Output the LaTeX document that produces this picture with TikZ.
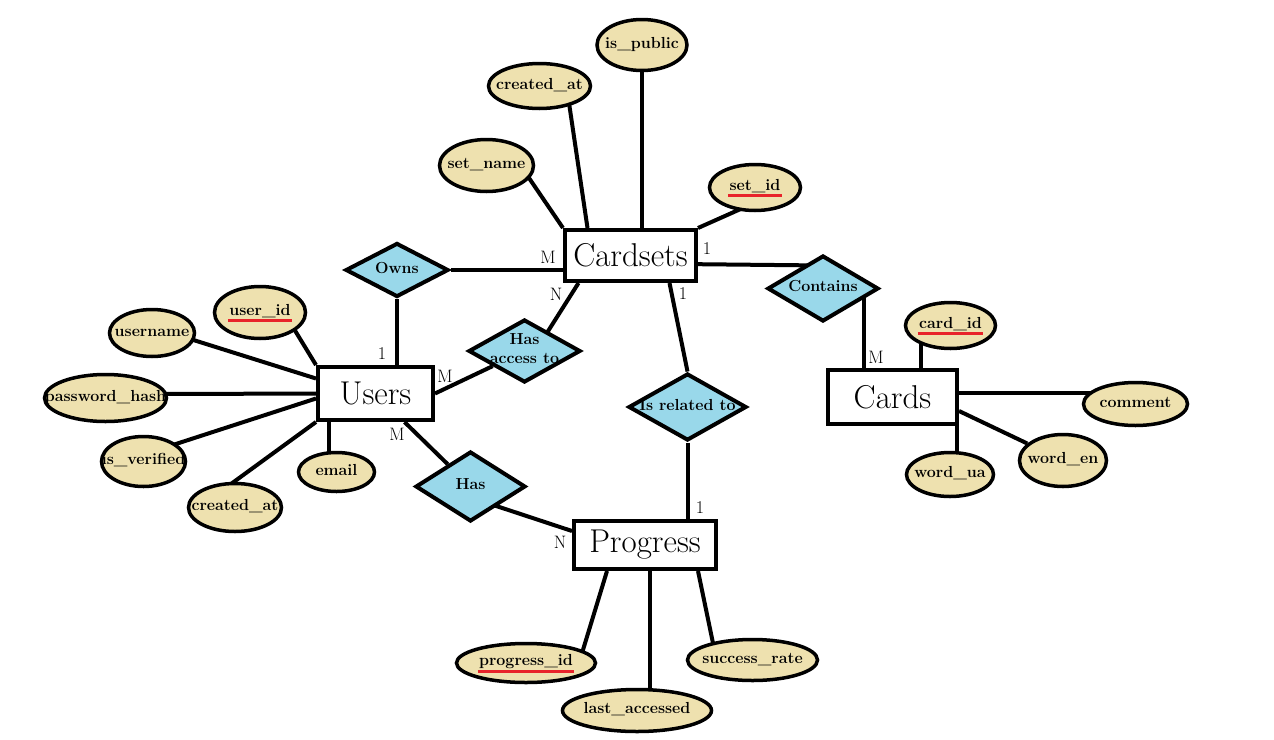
\documentclass[tikz,border=0pt]{standalone}
\usepackage{fontspec}
\usetikzlibrary{shapes.geometric,calc}
\definecolor{attrfill}{HTML}{EEE1AF}
\definecolor{relfill}{HTML}{99D8EA}
\definecolor{keyred}{HTML}{E8232A}
\pgfdeclarelayer{back}
\pgfdeclarelayer{bg}
\pgfsetlayers{back,bg,main}
\newcommand\zt[1]{\makebox[0pt]{\raisebox{-0.25em}[0pt][0pt]{\begin{tabular}[c]{@{}c@{}}#1\end{tabular}}}}
\newcommand\pk[1]{\setbox0\hbox{#1}\rlap{\hspace{-1.5pt}\textcolor{keyred}{\rule[-7pt]{\dimexpr\wd0+3pt\relax}{3pt}}}\box0}
\begin{document}
\begin{tikzpicture}[x=1pt,y=-1pt,
 dims/.style 2 args={minimum width=#1pt,minimum height=#2pt},
 entity/.style={draw, line width=4pt, fill=white, inner sep=0pt, font=\fontsize{33}{38}\selectfont},
 attr/.style={ellipse, draw, line width=3.5pt, fill=attrfill, inner sep=0pt, font=\bfseries\fontsize{16}{19}\selectfont},
 rel/.style={diamond, draw, line width=4pt, fill=relfill, inner sep=0pt, font=\bfseries\fontsize{16}{19}\selectfont},
 cardlab/.style={inner sep=0pt, font=\fontsize{18}{21}\selectfont},
 link/.style={line width=4pt}]
\begin{pgfonlayer}{back}
\fill[white] (0,0) rectangle (1274,739);
\end{pgfonlayer}
\useasboundingbox (0,0) rectangle (1274,739);

% entities
\node[entity, dims={131}{51}] (cs) at (630.5,255.5) {Cardsets};
\node[entity, dims={115}{53}] (users) at (375.5,393.5) {Users};
\node[entity, dims={129}{54}] (cards) at (892.5,397) {Cards};
\node[entity, dims={142}{48}] (prog) at (645,545) {Progress};

% relationships
\node[rel, dims={103}{54}] (owns) at (397,270) {\zt{Owns}};
\node[rel, dims={112}{63}] (hasacc) at (524.5,351) {\zt{Has\\access to}};
\node[rel, dims={118}{67}] (isrel) at (687.5,407) {\zt{Is related to}};
\node[rel, dims={110}{70}] (has) at (470.5,486.5) {\zt{Has}};
\node[rel, dims={111}{66}] (contains) at (823,288.5) {\zt{Contains}};

% attributes
\node[attr, dims={90}{51}] (ispublic) at (642,45) {\zt{is\_public}};
\node[attr, dims={102}{45}] (ca1) at (539.5,86) {\zt{created\_at}};
\node[attr, dims={94}{52}] (setname) at (486.5,165.5) {\zt{set\_name}};
\node[attr, dims={91}{46}] (setid) at (755,187.5) {\zt{\pk{set\_id}}};
\node[attr, dims={91}{52}] (userid) at (260,312.5) {\zt{\pk{user\_id}}};
\node[attr, dims={85}{47}] (username) at (152,333) {\zt{username}};
\node[attr, dims={122}{47}] (pw) at (105.5,398) {\zt{password\_hash}};
\node[attr, dims={84}{50}] (isver) at (143.5,461.5) {\zt{is\_verified}};
\node[attr, dims={93}{48}] (ca2) at (235,507.5) {\zt{created\_at}};
\node[attr, dims={76}{39}] (email) at (336.5,472) {\zt{email}};
\node[attr, dims={90}{46}] (cardid) at (950.5,325.5) {\zt{\pk{card\_id}}};
\node[attr, dims={104}{43}] (comment) at (1135.5,404) {\zt{comment}};
\node[attr, dims={87}{52}] (worden) at (1063,460.5) {\zt{word\_en}};
\node[attr, dims={87}{44}] (wordua) at (950,474.5) {\zt{word\_ua}};
\node[attr, dims={139}{39}] (progid) at (526,663) {\zt{\pk{progress\_id}}};
\node[attr, dims={149}{42}] (lastacc) at (637,710.5) {\zt{last\_accessed}};
\node[attr, dims={130}{41}] (succ) at (752.5,660) {\zt{success\_rate}};

% cardinalities
\node[cardlab] (c1) at (548,257) {M};
\node[cardlab] (c2) at (707,249) {1};
\node[cardlab] (c3) at (556,294) {N};
\node[cardlab] (c4) at (683,294) {1};
\node[cardlab] (c5) at (382,354) {1};
\node[cardlab] (c6) at (445,376) {M};
\node[cardlab] (c7) at (397,434) {M};
\node[cardlab] (c8) at (700,508) {1};
\node[cardlab] (c9) at (560,542) {N};
\node[cardlab] (c10) at (876,357) {M};

\begin{pgfonlayer}{bg}
% Cardsets
\draw[link] ($(setname)+(34,0)$) -- (cs.north west);
\draw[link] ($(ca1)+(27,0)$) -- ($(cs.north)+(-43,0)$);
\draw[link] (ispublic) -- (ispublic |- cs.north);
\draw[link] ($(setid)+(7,12)$) -- (cs.north east);
\draw[link] (owns) -- (owns -| cs);
\draw[link] ($(cs)+(0,8)$) -- ($(contains)+(0,-23)$);
% Cards
\coordinate (kc) at ($(cards.north)+(-29,0)$);
\draw[link] (kc) -- (kc |- contains);
\coordinate (kd) at ($(cards.north)+(28,0)$);
\draw[link] (kd) -- (kd |- cardid);
\draw[link] ($(cards)+(0,-4)$) -- ($(comment)+(0,-11)$);
\draw[link] ($(cards.east)+(0,14)$) -- (worden);
\coordinate (ke) at ($(cards.south east)+(-2,0)$);
\draw[link] (ke) -- (ke |- wordua);
% Users
\draw[link] ($(userid)+(24,0)$) -- (users.north west);
\draw[link] ($(username)+(0,-6)$) -- ($(users.west)+(0,-15)$);
\draw[link] ($(pw)+(0,-4)$) -- (users);
\draw[link] ($(isver)+(0,-7)$) -- ($(users.west)+(0,5)$);
\draw[link] ($(ca2)+(-13,-17)$) -- (users.south west);
\coordinate (kf) at ($(users.south west)+(13,0)$);
\draw[link] (kf) -- (kf |- email);
\draw[link] (owns) -- (owns |- users);
\draw[link] ($(cs.south)+(-52,0)$) -- ($(hasacc)+(11,0)$);
\draw[link] (hasacc) -- (users.east);
\draw[link] ($(cs.south)+(39,0)$) -- (isrel.north);
\draw[link] (isrel) -- (isrel |- prog);
\draw[link] ($(users.south)+(29,0)$) -- (has);
\draw[link] ($(has)+(0,11)$) -- ($(prog.west)+(0,-14)$);
% Progress
\draw[link] ($(prog.south)+(-38,0)$) -- ($(progid)+(53,0)$);
\coordinate (kg) at ($(prog.south)+(5,0)$);
\draw[link] (kg) -- (kg |- lastacc);
\draw[link] ($(prog.south)+(53,0)$) -- ($(succ)+(-36,0)$);
\end{pgfonlayer}
\end{tikzpicture}
\end{document}
